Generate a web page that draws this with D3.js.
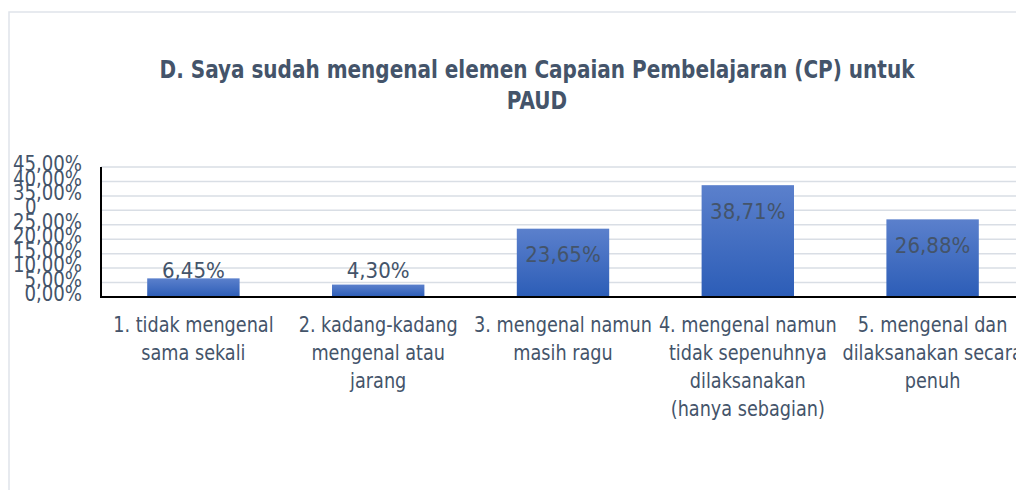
<!DOCTYPE html>
<html><head><meta charset="utf-8">
<script src="https://cdn.jsdelivr.net/npm/d3@7"></script>
<style>html,body{margin:0;padding:0;background:#fff;}</style>
</head><body>
<svg id="c" width="1016" height="490"></svg>
<script>
const titleLines = ["D. Saya sudah mengenal elemen Capaian Pembelajaran (CP) untuk", "PAUD"];
const categories = [
  "1. tidak mengenal\nsama sekali",
  "2. kadang-kadang\nmengenal atau\njarang",
  "3. mengenal namun\nmasih ragu",
  "4. mengenal namun\ntidak sepenuhnya\ndilaksanakan\n(hanya sebagian)",
  "5. mengenal dan\ndilaksanakan secara\npenuh"
];
const values = [6.45, 4.30, 23.65, 38.71, 26.88];
const valueLabels = ["6,45%", "4,30%", "23,65%", "38,71%", "26,88%"];
const yTicks = [0, 5, 10, 15, 20, 25, 30, 35, 40, 45];
const yTickLabels = ["0,00%", "5,00%", "10,00%", "15,00%", "20,00%", "25,00%", "0", "35,00%", "40,00%", "45,00%"];

const FONT = "'DejaVu Sans Condensed', 'DejaVu Sans', sans-serif";
const TXT = "#44546a";
const svg = d3.select("#c");
svg.append("rect").attr("width",1016).attr("height",490).attr("fill","#fff");
svg.append("rect").attr("x",9).attr("y",12).attr("width",1040).attr("height",500)
  .attr("fill","none").attr("stroke","#dfe4ea").attr("stroke-width",1.5);

const defs = svg.append("defs");
const grad = defs.append("linearGradient").attr("id","bg").attr("x1",0).attr("y1",0).attr("x2",0).attr("y2",1);
grad.append("stop").attr("offset","0%").attr("stop-color","#5b80cc");
grad.append("stop").attr("offset","100%").attr("stop-color","#2c5db7");

const x = d3.scaleBand().domain(categories).range([101, 1025]).paddingInner(0.5).paddingOuter(0.25);
const y = d3.scaleLinear().domain([0,45]).range([297,167]);

// gridlines
svg.append("g").selectAll("line").data(yTicks.slice(1)).join("line")
  .attr("x1",101).attr("x2",1016).attr("y1",d=>y(d)).attr("y2",d=>y(d))
  .attr("stroke","#d9dee5").attr("stroke-width",1.5);

// bars
svg.append("g").selectAll("rect").data(values).join("rect")
  .attr("x",(d,i)=>x(categories[i])).attr("width",x.bandwidth())
  .attr("y",d=>y(d)).attr("height",d=>y(0)-y(d)).attr("fill","url(#bg)");

// axes lines
svg.append("line").attr("x1",101).attr("x2",101).attr("y1",y(45)).attr("y2",y(0)+1)
  .attr("stroke","#000").attr("stroke-width",2);
svg.append("line").attr("x1",100).attr("x2",1016).attr("y1",y(0)).attr("y2",y(0))
  .attr("stroke","#000").attr("stroke-width",2);

// y tick labels (horizontally condensed)
svg.append("g").selectAll("text").data(yTicks).join("text")
  .attr("transform",(d,i)=>`translate(${yTickLabels[i].length < 3 ? 25 : 82},${y(d)-3}) scale(0.96,1)`)
  .attr("text-anchor",(d,i)=> yTickLabels[i].length < 3 ? "start" : "end")
  .attr("dominant-baseline","central")
  .attr("font-family",FONT).attr("font-size",21).attr("fill",TXT)
  .text((d,i)=>yTickLabels[i]);

// data labels
svg.append("g").selectAll("text").data(values).join("text")
  .attr("x",(d,i)=>x(categories[i])+x.bandwidth()/2)
  .attr("y",d=>Math.min(y(d)+26, y(0)-27))
  .attr("text-anchor","middle").attr("dominant-baseline","central")
  .attr("font-family",FONT).attr("font-size",22).attr("fill",TXT)
  .text((d,i)=>valueLabels[i]);

// category labels
const cg = svg.append("g");
categories.forEach((c,i)=>{
  const t = cg.append("text").attr("text-anchor","middle")
    .attr("transform",`translate(${x(c)+x.bandwidth()/2},0) scale(0.935,1)`)
    .attr("font-family",FONT).attr("font-size",21).attr("fill",TXT);
  c.split("\n").forEach((ln,j)=>{
    t.append("tspan").attr("x",0).attr("y",332+28*j).text(ln);
  });
});

// title
const tt = svg.append("text").attr("text-anchor","middle")
  .attr("transform","translate(537,0) scale(0.89,1)")
  .attr("font-family",FONT).attr("font-weight","bold").attr("font-size",25).attr("fill",TXT);
titleLines.forEach((ln,j)=>{
  tt.append("tspan").attr("x",0).attr("y",78+31*j).text(ln);
});
</script>
</body></html>
